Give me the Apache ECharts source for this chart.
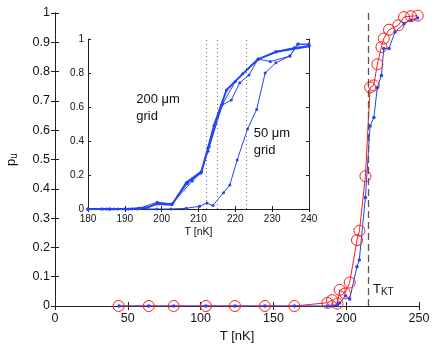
<!DOCTYPE html>
<html>
<head>
<meta charset="utf-8">
<script src="https://cdn.jsdelivr.net/npm/echarts@6/dist/echarts.min.js"></script>
<style>
  html, body { margin: 0; padding: 0; background: #fff; }
  #chart { width: 436px; height: 346px; }
</style>
</head>
<body>
<div id="chart"></div>
<script>
// main plot: blue dots
const mainBlueT = [44, 64.4, 81.5, 103.7, 123.6, 144.2, 164.4, 187, 190.5, 194, 195.5, 199.5, 202.4, 207.4, 209, 213.2, 216.4, 219, 221.4, 224.2, 225.8, 229.4, 233.5, 239.7, 244.5, 249];
const mainBlueP = [0, 0, 0, 0, 0, 0, 0, 0, 0, 0.003, 0.01, 0.035, 0.024, 0.134, 0.157, 0.37, 0.614, 0.643, 0.746, 0.787, 0.879, 0.879, 0.935, 0.963, 0.976, 0.983];
// main plot: red circles
const mainRedT = [43.7, 64.4, 81.5, 103.7, 123.6, 144.2, 164.4, 187.1, 190.3, 194, 195.5, 199.2, 202.4, 207.4, 209.1, 213.2, 216.4, 218.9, 221.4, 224.2, 225.8, 229.4, 235.8, 239.7, 244.5, 249.1];
const mainRedP = [0, 0, 0, 0, 0, 0, 0, 0.011, 0.02, 0.008, 0.055, 0.043, 0.08, 0.225, 0.257, 0.443, 0.746, 0.753, 0.825, 0.884, 0.913, 0.943, 0.958, 0.986, 0.989, 0.991];
const tKT = 215;

// inset: 200 um grid runs
const g200aT = [180, 184, 186, 188, 191, 194, 196, 198.8, 202.8, 206.7, 210.8, 212.6, 214.2, 217.6, 222, 226.2, 231.2, 240];
const g200aP = [0, 0, 0, 0, 0, 0.005, 0.008, 0.03, 0.025, 0.155, 0.22, 0.36, 0.49, 0.7, 0.795, 0.882, 0.925, 0.958];
const g200bT = [180, 185, 190, 194, 198.8, 202.8, 207, 210.5, 212.6, 216.3, 218.9, 221.2, 223.7, 226.2, 229.5, 234.8, 237, 240];
const g200bP = [0, 0, 0, 0.005, 0.04, 0.03, 0.15, 0.21, 0.34, 0.61, 0.641, 0.743, 0.788, 0.882, 0.867, 0.9, 0.97, 0.965];
const g200cT = [180, 186, 192, 196, 198.8, 202.8, 208.3, 210.8, 212.9, 216.6, 220, 226.2, 230.9, 236.1, 240];
const g200cP = [0, 0, 0, 0.006, 0.035, 0.03, 0.165, 0.215, 0.367, 0.62, 0.75, 0.88, 0.925, 0.95, 0.96];
// inset: 50 um grid run
const g50T = [180, 183.5, 185.6, 187, 190.3, 193.5, 198.7, 202.5, 206.7, 210.3, 212.3, 213.9, 216.8, 218.5, 220.5, 223.3, 225.8, 228.1, 231, 234.8, 237, 240];
const g50P = [0, 0, 0, 0, 0, 0, 0, 0, 0.004, 0.016, 0.035, 0.02, 0.096, 0.141, 0.288, 0.47, 0.586, 0.8, 0.86, 0.9, 0.97, 0.97];
const insetMarks = [212, 215, 223];

const mainYTicks = ['0', '0.1', '0.2', '0.3', '0.4', '0.5', '0.6', '0.7', '0.8', '0.9', '1'];
const insetYTicks = ['0', '0.2', '0.4', '0.6', '0.8', '1'];

const zip = (a, b) => a.map((v, i) => [v, b[i]]);
const font = 'Liberation Sans';
const blue = '#2443f5';
const red = '#ff1a1a';
const axisCol = '#222';

function axisBase(extra) {
  return Object.assign({
    type: 'value',
    axisLine: { show: true, lineStyle: { color: axisCol, width: 1 } },
    axisTick: { show: true, inside: true, length: 4, lineStyle: { color: axisCol } },
    splitLine: { show: false },
    axisLabel: { show: false }
  }, extra);
}

const chart = echarts.init(document.getElementById('chart'));

const option = {
  animation: false,
  backgroundColor: '#fff',
  textStyle: { fontFamily: font },
  grid: [
    { left: 55, right: 17, top: 13, bottom: 40, outerBoundsMode: 'none', containLabel: false },
    { left: 88, right: 127, top: 39, bottom: 137, outerBoundsMode: 'none', containLabel: false,
      show: true, backgroundColor: '#fff', borderWidth: 0 }
  ],
  xAxis: [
    axisBase({
      gridIndex: 0, min: 0, max: 250, interval: 50, position: 'bottom',
      axisLabel: { show: true, color: '#111', fontSize: 12.5, fontFamily: font, margin: 6 },
      name: 'T [nK]', nameLocation: 'middle', nameGap: 21,
      nameTextStyle: { color: '#111', fontSize: 13, fontFamily: font }
    }),
    axisBase({ gridIndex: 0, min: 0, max: 250, interval: 50, position: 'top' }),
    axisBase({
      gridIndex: 1, min: 180, max: 240, interval: 10, position: 'bottom',
      axisTick: { show: true, inside: true, length: 3, lineStyle: { color: axisCol } },
      axisLabel: { show: true, color: '#111', fontSize: 10, fontFamily: font, margin: 5 },
      name: 'T [nK]', nameLocation: 'middle', nameGap: 18,
      nameTextStyle: { color: '#111', fontSize: 10.5, fontFamily: font }
    }),
    axisBase({
      gridIndex: 1, min: 180, max: 240, interval: 10, position: 'top',
      axisTick: { show: true, inside: true, length: 3, lineStyle: { color: axisCol } }
    })
  ],
  yAxis: [
    axisBase({
      gridIndex: 0, min: 0, max: 1, interval: 0.1, position: 'left',
      axisLabel: {
        show: true, color: '#111', fontSize: 12.5, fontFamily: font, margin: 5,
        formatter: (v) => mainYTicks[Math.round(v * 10)]
      },
      name: '{p|p}{u|u}', nameLocation: 'middle', nameGap: 36, nameRotate: 90,
      nameTextStyle: {
        rich: {
          p: { fontSize: 13, fontFamily: font, color: '#111', lineHeight: 14, verticalAlign: 'top' },
          u: { fontSize: 10, fontFamily: font, color: '#111', lineHeight: 10, padding: [9, 0, 0, 0], verticalAlign: 'bottom' }
        }
      }
    }),
    axisBase({ gridIndex: 0, min: 0, max: 1, interval: 0.1, position: 'right' }),
    axisBase({
      gridIndex: 1, min: 0, max: 1, interval: 0.2, position: 'left',
      axisTick: { show: true, inside: true, length: 3, lineStyle: { color: axisCol } },
      axisLabel: {
        show: true, color: '#111', fontSize: 10, fontFamily: font, margin: 4,
        formatter: (v) => insetYTicks[Math.round(v * 5)]
      }
    }),
    axisBase({
      gridIndex: 1, min: 0, max: 1, interval: 0.2, position: 'right',
      axisTick: { show: true, inside: true, length: 3, lineStyle: { color: axisCol } }
    })
  ],
  series: [
    {
      type: 'line', xAxisIndex: 0, yAxisIndex: 0,
      data: zip(mainRedT, mainRedP),
      symbol: 'circle', symbolSize: 11,
      lineStyle: { color: red, width: 1 },
      itemStyle: { color: 'rgba(0,0,0,0)', borderColor: red, borderWidth: 1 }
    },
    {
      type: 'line', xAxisIndex: 0, yAxisIndex: 0,
      data: zip(mainBlueT, mainBlueP),
      symbol: 'circle', symbolSize: 3.5,
      lineStyle: { color: blue, width: 1 },
      itemStyle: { color: blue },
      markLine: {
        silent: true, symbol: 'none', label: { show: false },
        lineStyle: { color: '#555', width: 1.3, type: [7, 4] },
        data: [[{ coord: [tKT, 0] }, { coord: [tKT, 1] }]]
      },
      markPoint: {
        silent: true, symbol: 'circle', symbolSize: 0,
        data: [{ coord: [218.4, 0.055] }],
        label: {
          show: true, position: 'inside', align: 'left', verticalAlign: 'middle',
          formatter: '{t|T}{s|KT}',
          rich: {
            t: { fontSize: 13, fontFamily: font, color: '#111', lineHeight: 14, verticalAlign: 'top' },
            s: { fontSize: 10, fontFamily: font, color: '#111', lineHeight: 10, padding: [10, 0, 0, 0], verticalAlign: 'bottom' }
          }
        }
      }
    },
    {
      type: 'line', xAxisIndex: 2, yAxisIndex: 2,
      data: zip(g200cT, g200cP),
      symbol: 'circle', symbolSize: 3,
      lineStyle: { color: blue, width: 1 },
      itemStyle: { color: blue },
      markLine: {
        silent: true, symbol: 'none', label: { show: false },
        lineStyle: { color: '#666', width: 1, type: [1, 3] },
        data: insetMarks.map((t) => [{ coord: [t, 0] }, { coord: [t, 1] }])
      }
    },
    {
      type: 'line', xAxisIndex: 2, yAxisIndex: 2,
      data: zip(g200bT, g200bP),
      symbol: 'circle', symbolSize: 3,
      lineStyle: { color: blue, width: 1 },
      itemStyle: { color: blue }
    },
    {
      type: 'line', xAxisIndex: 2, yAxisIndex: 2,
      data: zip(g200aT, g200aP),
      symbol: 'circle', symbolSize: 3,
      lineStyle: { color: blue, width: 2 },
      itemStyle: { color: blue },
      markPoint: {
        silent: true, symbol: 'circle', symbolSize: 0,
        label: {
          show: true, position: 'inside', align: 'left', verticalAlign: 'middle',
          fontSize: 13, fontFamily: font, color: '#111', lineHeight: 17
        },
        data: [
          { coord: [193.1, 0.597], label: { formatter: '200 μm\ngrid' } },
          { coord: [225.0, 0.397], label: { formatter: '50 μm\ngrid' } }
        ]
      }
    },
    {
      type: 'line', xAxisIndex: 2, yAxisIndex: 2,
      data: zip(g50T, g50P),
      symbol: 'circle', symbolSize: 3,
      lineStyle: { color: blue, width: 1 },
      itemStyle: { color: blue }
    }
  ]
};

chart.setOption(option);
</script>
</body>
</html>
